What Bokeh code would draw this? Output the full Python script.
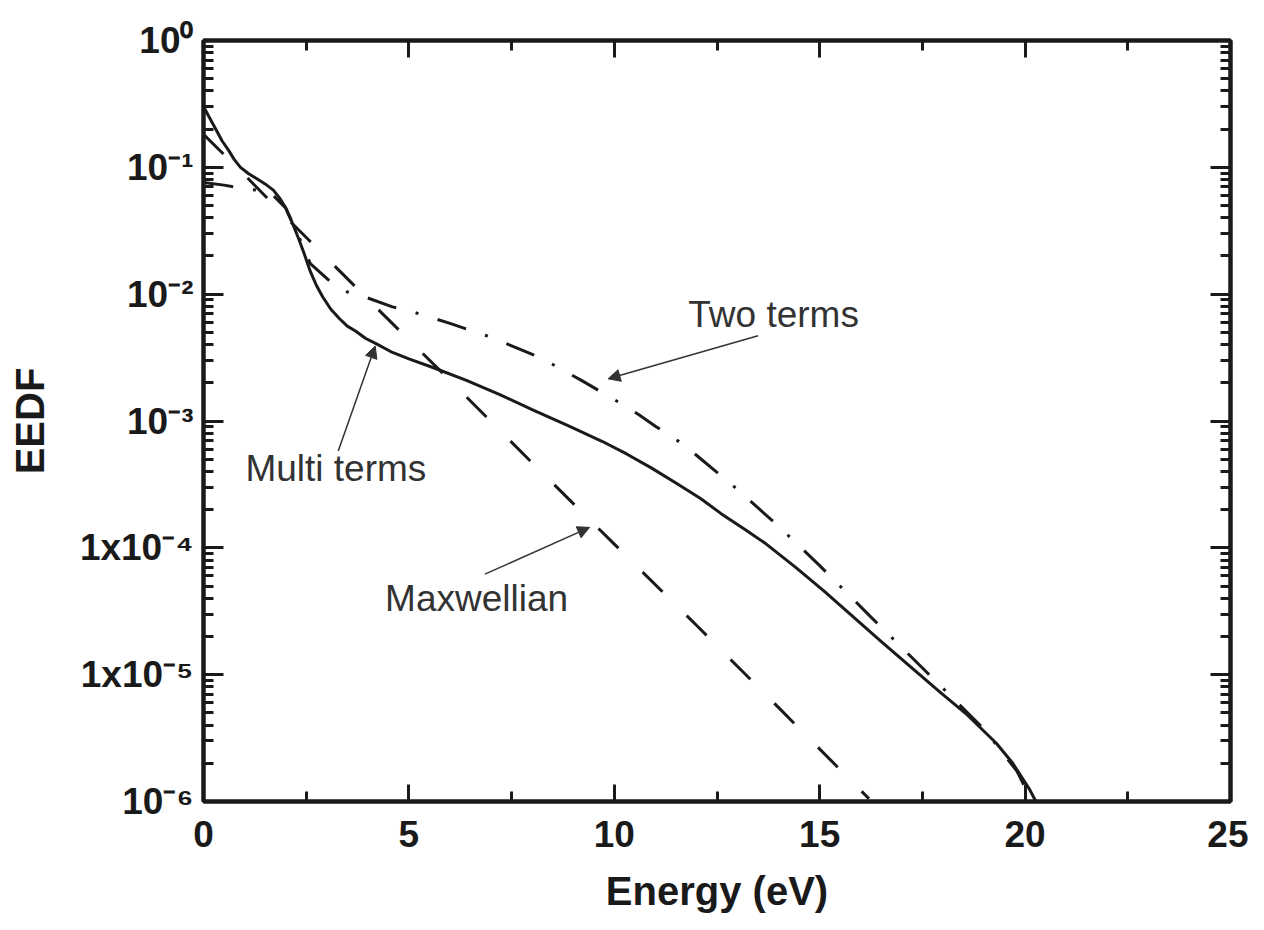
from bokeh.plotting import figure
from bokeh.models import LinearAxis, LogAxis, FixedTicker, Arrow, NormalHead, Label, Range1d
from bokeh.embed import file_html
from bokeh.resources import INLINE

# ---------------- data ----------------
multi_E = [0.0, 0.15, 0.3, 0.45, 0.6, 0.75, 0.9, 1.1, 1.3, 1.5, 1.7, 1.85, 2.0, 2.15, 2.3,
           2.45, 2.6, 2.75, 2.9, 3.1, 3.3, 3.5, 3.7, 3.95, 4.2, 4.6, 5.0, 5.6, 6.4, 7.2,
           8.0, 8.9, 9.7, 10.3, 10.9, 11.5, 12.1, 12.6, 13.2, 13.7, 14.4, 15.1, 16.5, 17.9,
           18.6, 19.3, 19.7, 20.1, 20.3]
multi_f = [0.302, 0.245, 0.200, 0.162, 0.138, 0.115, 0.100, 0.089, 0.0813, 0.074, 0.0661,
           0.0575, 0.0479, 0.0372, 0.0282, 0.0209, 0.0151, 0.0117, 0.00955, 0.0076,
           0.00646, 0.0056, 0.00513, 0.00447, 0.00407, 0.00347, 0.00309, 0.00263, 0.00209,
           0.00162, 0.00123, 0.000912, 0.000692, 0.00055, 0.000427, 0.000324, 0.000245,
           0.000186, 0.000138, 0.000107, 7.08e-5, 4.57e-5, 1.82e-5, 7.41e-6, 4.79e-6,
           2.88e-6, 2.0e-6, 1.26e-6, 0.95e-6]

two_E = [0.0, 0.5, 1.0, 1.6, 2.0, 2.3, 2.6, 3.16, 3.6, 4.0, 4.6, 5.0, 6.0, 7.0, 8.2,
         9.2, 10.2, 10.6, 11.0, 11.6, 12.0, 13.0, 14.0, 15.0, 16.2, 17.6, 19.0, 19.8, 20.2]
two_f = [0.0759, 0.0724, 0.0676, 0.0646, 0.0479, 0.0295, 0.0174, 0.0120, 0.0100, 0.00933,
         0.00794, 0.00741, 0.00589, 0.00457, 0.00316, 0.00209, 0.00135, 0.00112, 0.00091,
         0.00068, 0.000537, 0.000288, 0.000148, 7.24e-5, 2.95e-5, 1.05e-5, 3.72e-6,
         1.74e-6, 0.955e-6]

maxw_E = [0.0, 1.0, 2.0, 4.0, 6.0, 8.0, 10.0, 12.0, 14.0, 16.2]
maxw_f = [0.182, 0.0871, 0.0407, 0.00912, 0.00209, 4.68e-4, 1.07e-4, 2.45e-5, 5.5e-6, 1.05e-6]

x_ticks = [0, 5, 10, 15, 20, 25]
x_minor = [2.5, 7.5, 12.5, 17.5, 22.5]
y_ticks = [1e-6, 1e-5, 1e-4, 1e-3, 1e-2, 1e-1, 1.0]
y_labels = ["10\u207b\u2076", "1x10\u207b\u2075", "1x10\u207b\u2074", "10\u207b\u00b3",
            "10\u207b\u00b2", "10\u207b\u00b9", "10\u2070"]

# annotations: (text, text x, text y, arrow start x, y, arrow end x, y)
ann_text = ["Two terms", "Multi terms", "Maxwellian"]
ann_tx = [11.8, 1.02, 4.42]
ann_ty = [6.9e-3, 4.2e-4, 4.0e-5]
ann_x0 = [13.5, 3.28, 6.85]
ann_y0 = [4.7e-3, 5.8e-4, 6.2e-5]
ann_x1 = [9.85, 4.18, 9.4]
ann_y1 = [2.15e-3, 3.9e-3, 1.45e-4]

# ---------------- figure ----------------
INK = "#1a1a1a"
FONT = "Liberation Sans"

p = figure(width=1248, height=922, y_axis_type="log",
           x_range=Range1d(0, 25), y_range=Range1d(1e-6, 1.0),
           output_backend="svg", toolbar_location=None,
           min_border_left=203, min_border_top=40, min_border_right=18,
           min_border_bottom=121)
p.grid.visible = False
p.outline_line_color = INK
p.outline_line_width = 4
p.background_fill_color = "white"
p.border_fill_color = "white"

y_minor = [k * d for d in [1e-6, 1e-5, 1e-4, 1e-3, 1e-2, 1e-1] for k in range(2, 10)]


def style_axis(ax):
    ax.axis_line_width = 4
    ax.axis_line_color = INK
    ax.major_tick_line_width = 3
    ax.major_tick_line_color = INK
    ax.minor_tick_line_width = 3
    ax.minor_tick_line_color = INK
    ax.major_tick_out = 0
    ax.minor_tick_out = 0
    ax.major_label_text_font = FONT
    ax.major_label_text_font_style = "bold"
    ax.major_label_text_font_size = "37px"
    ax.major_label_text_color = INK
    ax.axis_label_text_font = FONT
    ax.axis_label_text_font_style = "bold"
    ax.axis_label_text_font_size = "40px"
    ax.axis_label_text_color = INK


xa = p.xaxis[0]
xa.ticker = FixedTicker(ticks=x_ticks, minor_ticks=x_minor)
style_axis(xa)
xa.major_tick_in = 17
xa.minor_tick_in = 10
xa.major_label_standoff = 19
xa.axis_label = "Energy (eV)"
xa.axis_label_standoff = 19

ya = p.yaxis[0]
ya.ticker = FixedTicker(ticks=y_ticks, minor_ticks=y_minor)
style_axis(ya)
ya.major_tick_in = 20
ya.minor_tick_in = 10
ya.major_label_standoff = 10
ya.major_label_overrides = {t: l for t, l in zip(y_ticks, y_labels)}
ya.axis_label = "EEDF"
ya.axis_label_standoff = 25

top = LinearAxis(ticker=FixedTicker(ticks=x_ticks, minor_ticks=x_minor))
style_axis(top)
top.major_tick_in = 17
top.minor_tick_in = 10
top.major_label_overrides = {t: "" for t in x_ticks}
p.add_layout(top, "above")

right = LogAxis(ticker=FixedTicker(ticks=y_ticks, minor_ticks=y_minor))
style_axis(right)
right.major_tick_in = 20
right.minor_tick_in = 10
right.major_label_overrides = {t: "" for t in y_ticks}
p.add_layout(right, "right")

# ---------------- curves ----------------
p.line(maxw_E, maxw_f, line_width=3, line_color=INK, line_dash="28 34")
p.line(two_E, two_f, line_width=3, line_color=INK, line_dash="30 20 3 20")
p.line(multi_E, multi_f, line_width=3, line_color=INK, line_join="round")

# ---------------- annotations ----------------
for t, tx, ty, x0, y0, x1, y1 in zip(ann_text, ann_tx, ann_ty, ann_x0, ann_y0, ann_x1, ann_y1):
    p.add_layout(Label(x=tx, y=ty, text=t, text_font=FONT, text_font_size="37px",
                       text_color="#333333", text_baseline="middle", text_align="left"))
    p.add_layout(Arrow(x_start=x0, y_start=y0, x_end=x1, y_end=y1,
                       line_color="#333333", line_width=1.5,
                       end=NormalHead(size=12, fill_color="#333333", line_color="#333333")))

open("out.html", "w").write(file_html(p, INLINE))
